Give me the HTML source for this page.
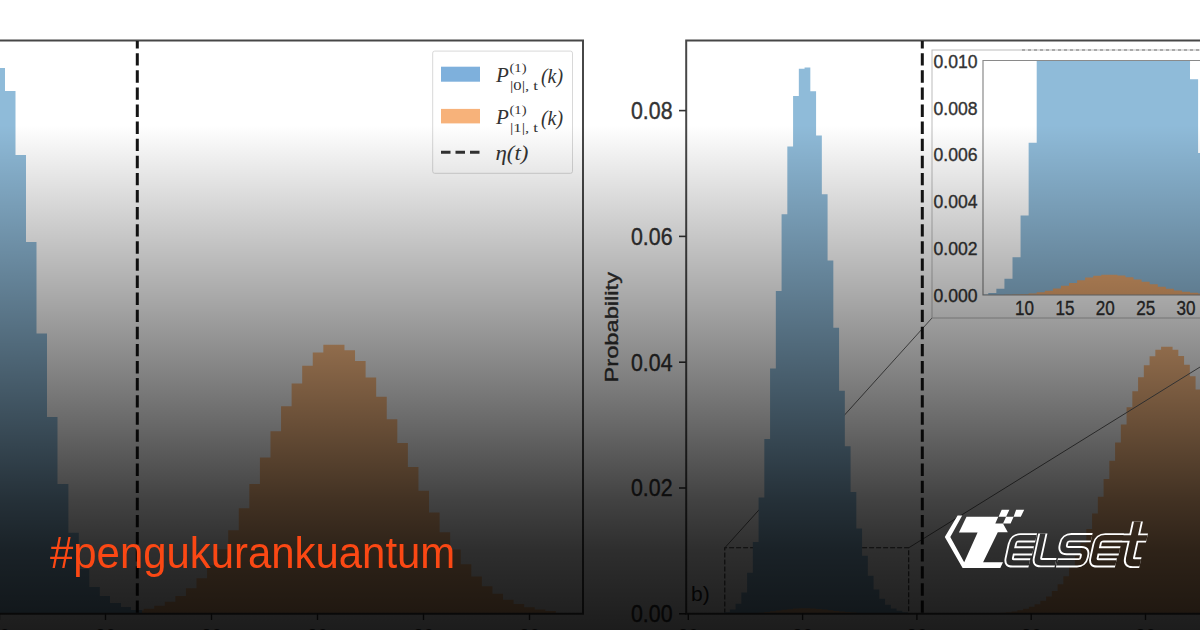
<!DOCTYPE html>
<html><head><meta charset="utf-8"><style>
html,body{margin:0;padding:0;background:#fff;}
#w{position:relative;width:1200px;height:630px;overflow:hidden;background:#fff;}
svg{position:absolute;left:0;top:0;}
#ov{position:absolute;left:0;top:0;width:1200px;height:630px;background:linear-gradient(to bottom, rgba(0,0,0,0) 0px, rgba(0,0,0,0) 125px, rgba(0,0,0,0.74) 500px, rgba(0,0,0,0.82) 550px, rgba(0,0,0,0.89) 630px);}
#tag{position:absolute;left:50px;top:528px;font-family:"Liberation Sans",sans-serif;font-size:43.5px;line-height:50px;color:#fb4814;white-space:nowrap;transform:scaleX(0.963);transform-origin:0 0;}
</style></head><body><div id="w">
<svg width="1200" height="630" viewBox="0 0 1200 630">
<path d="M133.07,613.8L133.07,610.58L143.64,610.58L143.64,608.67L154.21,608.67L154.21,605.84L164.78,605.84L164.78,601.76L175.35,601.76L175.35,596.06L185.92,596.06L185.92,588.33L196.49,588.33L196.49,578.16L207.06,578.16L207.06,565.20L217.63,565.20L217.63,549.21L228.20,549.21L228.20,530.16L238.77,530.16L238.77,508.26L249.34,508.26L249.34,484.01L259.91,484.01L259.91,457.40L270.48,457.40L270.48,431.20L281.05,431.20L281.05,406.20L291.62,406.20L291.62,383.60L302.19,383.60L302.19,365.70L312.76,365.70L312.76,352.60L323.33,352.60L323.33,344.80L333.90,344.80L333.90,344.80L344.47,344.80L344.47,350.20L355.04,350.20L355.04,361.00L365.61,361.00L365.61,377.60L376.18,377.60L376.18,396.70L386.75,396.70L386.75,419.30L397.32,419.30L397.32,443.00L407.89,443.00L407.89,466.90L418.46,466.90L418.46,490.87L429.03,490.87L429.03,512.61L439.60,512.61L439.60,532.29L450.17,532.29L450.17,549.55L460.74,549.55L460.74,564.23L471.31,564.23L471.31,576.38L481.88,576.38L481.88,586.16L492.45,586.16L492.45,593.81L503.02,593.81L503.02,599.66L513.59,599.66L513.59,604.01L524.16,604.01L524.16,607.17L534.73,607.17L534.73,609.40L545.30,609.40L545.30,610.95L555.87,610.95L555.87,613.8Z" fill="#ffbf86"/>
<path d="M-20.00,613.8L-20.00,60.00L-5.50,60.00L-5.50,68.00L5.00,68.00L5.00,91.00L15.50,91.00L15.50,155.00L26.00,155.00L26.00,242.00L36.50,242.00L36.50,333.50L47.00,333.50L47.00,417.00L57.50,417.00L57.50,484.00L68.40,484.00L68.40,532.70L78.80,532.70L78.80,569.00L89.30,569.00L89.30,587.00L99.80,587.00L99.80,596.00L110.00,596.00L110.00,603.00L121.00,603.00L121.00,607.00L131.00,607.00L131.00,610.00L142.00,610.00L142.00,613.8Z" fill="#8fbbd9"/>
<path d="M0,40.5H583V613.8H0" fill="none" stroke="#474747" stroke-width="2"/>
<line x1="-0.5" y1="613.5" x2="-0.5" y2="620" stroke="#333" stroke-width="1.4"/>
<line x1="105.5" y1="613.5" x2="105.5" y2="620" stroke="#333" stroke-width="1.4"/>
<line x1="211.5" y1="613.5" x2="211.5" y2="620" stroke="#333" stroke-width="1.4"/>
<line x1="317.5" y1="613.5" x2="317.5" y2="620" stroke="#333" stroke-width="1.4"/>
<line x1="423.5" y1="613.5" x2="423.5" y2="620" stroke="#333" stroke-width="1.4"/>
<line x1="529.5" y1="613.5" x2="529.5" y2="620" stroke="#333" stroke-width="1.4"/>
<line x1="137.3" y1="41" x2="137.3" y2="613" stroke="#151515" stroke-width="3" stroke-dasharray="12.4 4.7" stroke-dashoffset="4.9"/>
<rect x="432.7" y="51.1" width="139.8" height="122.2" rx="2" fill="#fff" fill-opacity="0.85" stroke="#d8d8d8" stroke-width="1"/>
<rect x="441" y="66.7" width="39" height="15" fill="#7eb0dc"/>
<rect x="441" y="108.9" width="39" height="14.5" fill="#f7b27a"/>
<line x1="441" y1="152.2" x2="480" y2="152.2" stroke="#333" stroke-width="3" stroke-dasharray="9.5 5"/>
<g font-family="Liberation Serif" font-style="italic" fill="#333"><text x="496" y="82" font-size="21">P</text><text x="509.5" y="72" font-size="13" font-style="normal" textLength="17" lengthAdjust="spacingAndGlyphs">(1)</text><text x="510" y="89.5" font-size="13" font-style="normal" textLength="28" lengthAdjust="spacingAndGlyphs">|0|, t</text><text x="541" y="82.5" font-size="21" textLength="22" lengthAdjust="spacingAndGlyphs">(k)</text></g>
<g font-family="Liberation Serif" font-style="italic" fill="#333"><text x="496" y="124" font-size="21">P</text><text x="509.5" y="114" font-size="13" font-style="normal" textLength="17" lengthAdjust="spacingAndGlyphs">(1)</text><text x="510" y="131.5" font-size="13" font-style="normal" textLength="28" lengthAdjust="spacingAndGlyphs">|1|, t</text><text x="541" y="124.5" font-size="21" textLength="22" lengthAdjust="spacingAndGlyphs">(k)</text></g>
<text x="495.5" y="160" font-family="Liberation Serif" font-style="italic" font-size="21" fill="#333" textLength="33" lengthAdjust="spacingAndGlyphs">η(t)</text>
<text x="-0.5" y="641.5" text-anchor="middle" font-family="Liberation Sans" font-size="19" fill="#333">20</text>
<text x="105.5" y="641.5" text-anchor="middle" font-family="Liberation Sans" font-size="19" fill="#333">20</text>
<text x="211.5" y="641.5" text-anchor="middle" font-family="Liberation Sans" font-size="19" fill="#333">20</text>
<text x="317.5" y="641.5" text-anchor="middle" font-family="Liberation Sans" font-size="19" fill="#333">20</text>
<text x="423.5" y="641.5" text-anchor="middle" font-family="Liberation Sans" font-size="19" fill="#333">20</text>
<text x="529.5" y="641.5" text-anchor="middle" font-family="Liberation Sans" font-size="19" fill="#333">20</text>
<path d="M942.58,613.8L942.58,613.79L948.33,613.79L948.33,613.79L954.08,613.79L954.08,613.78L959.83,613.78L959.83,613.76L965.58,613.76L965.58,613.73L971.33,613.73L971.33,613.69L977.08,613.69L977.08,613.62L982.83,613.62L982.83,613.51L988.58,613.51L988.58,613.34L994.33,613.34L994.33,613.08L1000.08,613.08L1000.08,612.71L1005.83,612.71L1005.83,612.16L1011.58,612.16L1011.58,611.38L1017.33,611.38L1017.33,610.30L1023.08,610.30L1023.08,608.81L1028.83,608.81L1028.83,606.81L1034.58,606.81L1034.58,604.18L1040.33,604.18L1040.33,600.77L1046.08,600.77L1046.08,596.42L1051.83,596.42L1051.83,590.99L1057.58,590.99L1057.58,584.33L1063.33,584.33L1063.33,576.29L1069.08,576.29L1069.08,566.77L1074.83,566.77L1074.83,555.70L1080.58,555.70L1080.58,543.08L1086.33,543.08L1086.33,528.93L1092.08,528.93L1092.08,513.39L1097.83,513.39L1097.83,496.66L1103.58,496.66L1103.58,479.00L1109.33,479.00L1109.33,460.79L1115.08,460.79L1115.08,442.43L1120.83,442.43L1120.83,424.39L1126.58,424.39L1126.58,407.17L1132.33,407.17L1132.33,391.27L1138.08,391.27L1138.08,377.19L1143.83,377.19L1143.83,365.36L1149.58,365.36L1149.58,356.16L1155.33,356.16L1155.33,349.87L1161.08,349.87L1161.08,346.69L1166.83,346.69L1166.83,346.69L1172.58,346.69L1172.58,349.84L1178.33,349.84L1178.33,355.97L1184.08,355.97L1184.08,364.86L1189.83,364.86L1189.83,376.18L1195.58,376.18L1195.58,389.53L1201.33,389.53L1201.33,613.8Z" fill="#ffbf86"/>
<path d="M724.8,613.5V547.8H908.7V613.5" fill="none" stroke="#333" stroke-width="1.1" stroke-dasharray="5 2"/>
<line x1="724.8" y1="547.8" x2="932" y2="318" stroke="#666" stroke-width="1"/>
<line x1="908.7" y1="547.8" x2="1300" y2="305" stroke="#666" stroke-width="1"/>
<path d="M706.83,613.8L706.83,613.76L712.58,613.76L712.58,613.64L718.33,613.64L718.33,613.25L724.08,613.25L724.08,612.15L729.83,612.15L729.83,609.46L735.58,609.46L735.58,603.64L741.33,603.64L741.33,592.41L747.08,592.41L747.08,572.87L752.83,572.87L752.83,542.00L758.58,542.00L758.58,497.54L764.33,497.54L764.33,438.99L770.08,438.99L770.08,368.49L775.83,368.49L775.83,291.06L781.58,291.06L781.58,214.17L787.33,214.17L787.33,146.45L793.08,146.45L793.08,96.03L798.83,96.03L798.83,68.85L804.58,68.85L804.58,67.55L810.33,67.55L810.33,91.14L816.08,91.14L816.08,135.45L821.83,135.45L821.83,194.25L827.58,194.25L827.58,260.54L833.33,260.54L833.33,327.79L839.08,327.79L839.08,390.82L844.83,390.82L844.83,446.17L850.58,446.17L850.58,492.12L856.33,492.12L856.33,528.42L862.08,528.42L862.08,555.83L867.83,555.83L867.83,575.66L873.58,575.66L873.58,589.47L879.33,589.47L879.33,598.74L885.08,598.74L885.08,604.74L890.83,604.74L890.83,608.50L896.58,608.50L896.58,610.79L902.33,610.79L902.33,612.13L908.08,612.13L908.08,612.90L913.83,612.90L913.83,613.33L919.58,613.33L919.58,613.56L925.33,613.56L925.33,613.68L931.08,613.68L931.08,613.74L936.83,613.74L936.83,613.77L942.58,613.77L942.58,613.8Z" fill="#8fbbd9"/>
<path d="M729.83,613.8L729.83,613.76L735.58,613.76L735.58,613.70L741.33,613.70L741.33,613.59L747.08,613.59L747.08,613.39L752.83,613.39L752.83,613.08L758.58,613.08L758.58,612.64L764.33,612.64L764.33,612.05L770.08,612.05L770.08,611.35L775.83,611.35L775.83,610.57L781.58,610.57L781.58,609.80L787.33,609.80L787.33,609.13L793.08,609.13L793.08,608.62L798.83,608.62L798.83,608.35L804.58,608.35L804.58,608.34L810.33,608.34L810.33,608.57L816.08,608.57L816.08,609.02L821.83,609.02L821.83,609.60L827.58,609.60L827.58,610.27L833.33,610.27L833.33,610.94L839.08,610.94L839.08,611.57L844.83,611.57L844.83,612.12L850.58,612.12L850.58,612.58L856.33,612.58L856.33,612.95L862.08,612.95L862.08,613.22L867.83,613.22L867.83,613.42L873.58,613.42L873.58,613.56L879.33,613.56L879.33,613.65L885.08,613.65L885.08,613.71L890.83,613.71L890.83,613.75L896.58,613.75L896.58,613.77L902.33,613.77L902.33,613.78L908.08,613.78L908.08,613.79L913.83,613.79L913.83,613.8Z" fill="#ffbf86" fill-opacity="0.9"/>
<path d="M1200,40.5H686.2V613.8H1200" fill="none" stroke="#474747" stroke-width="2"/>
<line x1="679" y1="613.8" x2="686" y2="613.8" stroke="#333" stroke-width="1.6"/>
<text x="631" y="622.0999999999999" font-family="Liberation Sans" font-size="24" fill="#333" stroke="#333" stroke-width="0.4" textLength="41.5" lengthAdjust="spacingAndGlyphs">0.00</text>
<line x1="679" y1="487.99999999999994" x2="686" y2="487.99999999999994" stroke="#333" stroke-width="1.6"/>
<text x="631" y="496.29999999999995" font-family="Liberation Sans" font-size="24" fill="#333" stroke="#333" stroke-width="0.4" textLength="41.5" lengthAdjust="spacingAndGlyphs">0.02</text>
<line x1="679" y1="362.19999999999993" x2="686" y2="362.19999999999993" stroke="#333" stroke-width="1.6"/>
<text x="631" y="370.49999999999994" font-family="Liberation Sans" font-size="24" fill="#333" stroke="#333" stroke-width="0.4" textLength="41.5" lengthAdjust="spacingAndGlyphs">0.04</text>
<line x1="679" y1="236.39999999999998" x2="686" y2="236.39999999999998" stroke="#333" stroke-width="1.6"/>
<text x="631" y="244.7" font-family="Liberation Sans" font-size="24" fill="#333" stroke="#333" stroke-width="0.4" textLength="41.5" lengthAdjust="spacingAndGlyphs">0.06</text>
<line x1="679" y1="110.59999999999997" x2="686" y2="110.59999999999997" stroke="#333" stroke-width="1.6"/>
<text x="631" y="118.89999999999996" font-family="Liberation Sans" font-size="24" fill="#333" stroke="#333" stroke-width="0.4" textLength="41.5" lengthAdjust="spacingAndGlyphs">0.08</text>
<line x1="688.3" y1="613.5" x2="688.3" y2="620" stroke="#333" stroke-width="1.4"/>
<text x="688.3" y="641.5" text-anchor="middle" font-family="Liberation Sans" font-size="19" fill="#333">20</text>
<line x1="802.6" y1="613.5" x2="802.6" y2="620" stroke="#333" stroke-width="1.4"/>
<text x="802.6" y="641.5" text-anchor="middle" font-family="Liberation Sans" font-size="19" fill="#333">20</text>
<line x1="916.9" y1="613.5" x2="916.9" y2="620" stroke="#333" stroke-width="1.4"/>
<text x="916.9" y="641.5" text-anchor="middle" font-family="Liberation Sans" font-size="19" fill="#333">20</text>
<line x1="1031.2" y1="613.5" x2="1031.2" y2="620" stroke="#333" stroke-width="1.4"/>
<text x="1031.2" y="641.5" text-anchor="middle" font-family="Liberation Sans" font-size="19" fill="#333">20</text>
<line x1="1145.5" y1="613.5" x2="1145.5" y2="620" stroke="#333" stroke-width="1.4"/>
<text x="1145.5" y="641.5" text-anchor="middle" font-family="Liberation Sans" font-size="19" fill="#333">20</text>
<text transform="translate(618,382.5) rotate(-90)" font-family="Liberation Sans" font-size="19" fill="#333" stroke="#333" stroke-width="0.35" textLength="110.5" lengthAdjust="spacingAndGlyphs">Probability</text>
<text x="691" y="601" font-family="Liberation Sans" font-size="21" fill="#222">b)</text>
<line x1="922.3" y1="41" x2="922.3" y2="613" stroke="#151515" stroke-width="3" stroke-dasharray="12.4 4.7" stroke-dashoffset="4.9"/>
<rect x="932" y="50" width="300" height="268" fill="#fff" stroke="#bbb" stroke-width="1"/>
<line x1="1022" y1="50" x2="1200" y2="50" stroke="#777" stroke-width="1" stroke-dasharray="3 3"/>
<clipPath id="ic"><rect x="983" y="60.5" width="300" height="235"/></clipPath>
<g clip-path="url(#ic)"><path d="M980.22,295.0L980.22,294.42L988.28,294.42L988.28,292.96L996.35,292.96L996.36,288.86L1004.42,288.86L1004.43,278.84L1012.50,278.84L1012.50,257.19L1020.56,257.19L1020.56,215.42L1028.63,215.42L1028.63,142.71L1036.71,142.71L1036.70,60.50L1044.78,60.50L1044.77,60.50L1052.85,60.50L1052.84,60.50L1060.91,60.50L1060.91,60.50L1068.99,60.50L1068.98,60.50L1077.06,60.50L1077.05,60.50L1085.12,60.50L1085.12,60.50L1093.19,60.50L1093.19,60.50L1101.27,60.50L1101.26,60.50L1109.34,60.50L1109.33,60.50L1117.40,60.50L1117.40,60.50L1125.48,60.50L1125.47,60.50L1133.55,60.50L1133.54,60.50L1141.62,60.50L1141.62,60.50L1149.69,60.50L1149.68,60.50L1157.76,60.50L1157.75,60.50L1165.83,60.50L1165.82,60.50L1173.89,60.50L1173.89,60.50L1181.97,60.50L1181.96,60.50L1190.04,60.50L1190.03,79.30L1198.11,79.30L1198.10,153.11L1206.17,153.11L1206.17,204.49L1214.25,204.49L1214.24,238.96L1222.32,238.96L1222.32,295.0Z" fill="#8fbbd9"/><path d="M980.22,295.0L980.22,294.99L988.28,294.99L988.28,294.98L996.35,294.98L996.36,294.94L1004.42,294.94L1004.43,294.84L1012.50,294.84L1012.50,294.62L1020.56,294.62L1020.56,294.20L1028.63,294.20L1028.63,293.48L1036.71,293.48L1036.70,292.33L1044.78,292.33L1044.77,290.67L1052.85,290.67L1052.84,288.50L1060.91,288.50L1060.91,285.87L1068.99,285.87L1068.98,282.99L1077.06,282.99L1077.05,280.13L1085.12,280.13L1085.12,277.61L1093.19,277.61L1093.19,275.74L1101.27,275.74L1101.26,274.72L1109.34,274.72L1109.33,274.68L1117.40,274.68L1117.40,275.55L1125.48,275.55L1125.47,277.20L1133.55,277.20L1133.54,279.39L1141.62,279.39L1141.62,281.86L1149.69,281.86L1149.68,284.36L1157.76,284.36L1157.75,286.70L1165.83,286.70L1165.82,288.76L1173.89,288.76L1173.89,290.47L1181.97,290.47L1181.96,291.82L1190.04,291.82L1190.03,292.84L1198.11,292.84L1198.10,293.58L1206.17,293.58L1206.17,294.09L1214.25,294.09L1214.24,294.44L1222.32,294.44L1222.32,295.0Z" fill="#e8a870"/></g>
<path d="M1200,60.5H983V295H1200" fill="none" stroke="#8a8a8a" stroke-width="1.2"/>
<text x="933.5" y="301.7" font-family="Liberation Sans" font-size="17.5" fill="#333" stroke="#333" stroke-width="0.35" textLength="44" lengthAdjust="spacingAndGlyphs">0.000</text>
<text x="933.5" y="254.89999999999998" font-family="Liberation Sans" font-size="17.5" fill="#333" stroke="#333" stroke-width="0.35" textLength="44" lengthAdjust="spacingAndGlyphs">0.002</text>
<text x="933.5" y="208.1" font-family="Liberation Sans" font-size="17.5" fill="#333" stroke="#333" stroke-width="0.35" textLength="44" lengthAdjust="spacingAndGlyphs">0.004</text>
<text x="933.5" y="161.3" font-family="Liberation Sans" font-size="17.5" fill="#333" stroke="#333" stroke-width="0.35" textLength="44" lengthAdjust="spacingAndGlyphs">0.006</text>
<text x="933.5" y="114.50000000000001" font-family="Liberation Sans" font-size="17.5" fill="#333" stroke="#333" stroke-width="0.35" textLength="44" lengthAdjust="spacingAndGlyphs">0.008</text>
<text x="933.5" y="67.7" font-family="Liberation Sans" font-size="17.5" fill="#333" stroke="#333" stroke-width="0.35" textLength="44" lengthAdjust="spacingAndGlyphs">0.010</text>
<text x="1015.0999999999999" y="315" font-family="Liberation Sans" font-size="19.5" fill="#333" stroke="#333" stroke-width="0.35" textLength="19" lengthAdjust="spacingAndGlyphs">10</text>
<text x="1055.45" y="315" font-family="Liberation Sans" font-size="19.5" fill="#333" stroke="#333" stroke-width="0.35" textLength="19" lengthAdjust="spacingAndGlyphs">15</text>
<text x="1095.8" y="315" font-family="Liberation Sans" font-size="19.5" fill="#333" stroke="#333" stroke-width="0.35" textLength="19" lengthAdjust="spacingAndGlyphs">20</text>
<text x="1136.15" y="315" font-family="Liberation Sans" font-size="19.5" fill="#333" stroke="#333" stroke-width="0.35" textLength="19" lengthAdjust="spacingAndGlyphs">25</text>
<text x="1176.5" y="315" font-family="Liberation Sans" font-size="19.5" fill="#333" stroke="#333" stroke-width="0.35" textLength="19" lengthAdjust="spacingAndGlyphs">30</text>
</svg>
<div id="ov"></div>
<div id="tag">#pengukurankuantum</div>
<svg width="1200" height="630" viewBox="0 0 1200 630" style="position:absolute;left:0;top:0">
<defs><mask id="lm" maskUnits="userSpaceOnUse" x="900" y="480" width="300" height="110">
<g transform="translate(0,567) skewX(-12.4) translate(0,-567)" fill="none" stroke-linecap="butt" stroke-linejoin="round">
<path d="M1029.6,537.8H1013.3Q1007.3,537.8 1007.3,543.8V557.9Q1007.3,562.9 1012.3,562.9H1028.5M1007.3,550.9H1029.4 M1035.5,533.6V557.7Q1035.5,562.7 1040.5,562.7H1054.6 M1085.2,537.7H1064Q1058.5,537.7 1058.5,543.2V545.1Q1058.5,550.6 1064,550.6H1077Q1082,550.6 1082,555.6V557.8Q1082,562.8 1077,562.8H1056 M1116.5,537.8H1098Q1092,537.8 1092,543.8V557.9Q1092,562.9 1097,562.9H1115M1092,550.9H1116 M1116.4,538H1140.6" stroke="#fff" stroke-width="9.2"/>
<path d="M1127.5,521.5V557.7Q1127.5,562.7 1132.5,562.7H1139.4" stroke="#fff" stroke-width="10.8"/>
<path d="M1029.6,537.8H1013.3Q1007.3,537.8 1007.3,543.8V557.9Q1007.3,562.9 1012.3,562.9H1028.5M1007.3,550.9H1029.4 M1035.5,533.6V557.7Q1035.5,562.7 1040.5,562.7H1054.6 M1085.2,537.7H1064Q1058.5,537.7 1058.5,543.2V545.1Q1058.5,550.6 1064,550.6H1077Q1082,550.6 1082,555.6V557.8Q1082,562.8 1077,562.8H1056 M1116.5,537.8H1098Q1092,537.8 1092,543.8V557.9Q1092,562.9 1097,562.9H1115M1092,550.9H1116 M1116.4,538H1140.6" stroke="#000" stroke-width="5.4"/>
<path d="M1127.5,521.5V557.7Q1127.5,562.7 1132.5,562.7H1139.4" stroke="#000" stroke-width="7"/>
</g></mask></defs>
<path d="M966.5,516.7L998.3,516.7L995.3,523.4L1003.0,523.4L1007.8,532.3L997.8,532.3L983.1,562.2L1003.0,562.2L1000.3,568.0L962.6,568.0L944.8,536.9L957.6,515.6L962.2,515.6L950.3,536.9L964.2,562.2L977.6,532.6L958.9,532.6ZM1001.7,509.8L1009.4,509.8L1006.1,516.7L998.6,516.7ZM1016.1,509.8L1024.2,509.8L1020.8,516.7L1013.6,516.7ZM1006.1,516.7L1013.6,516.7L1010.6,523.4L1003.0,523.4Z" fill="#fff"/>
<rect x="900" y="480" width="300" height="110" fill="#fff" mask="url(#lm)"/>
</svg>
</div></body></html>
